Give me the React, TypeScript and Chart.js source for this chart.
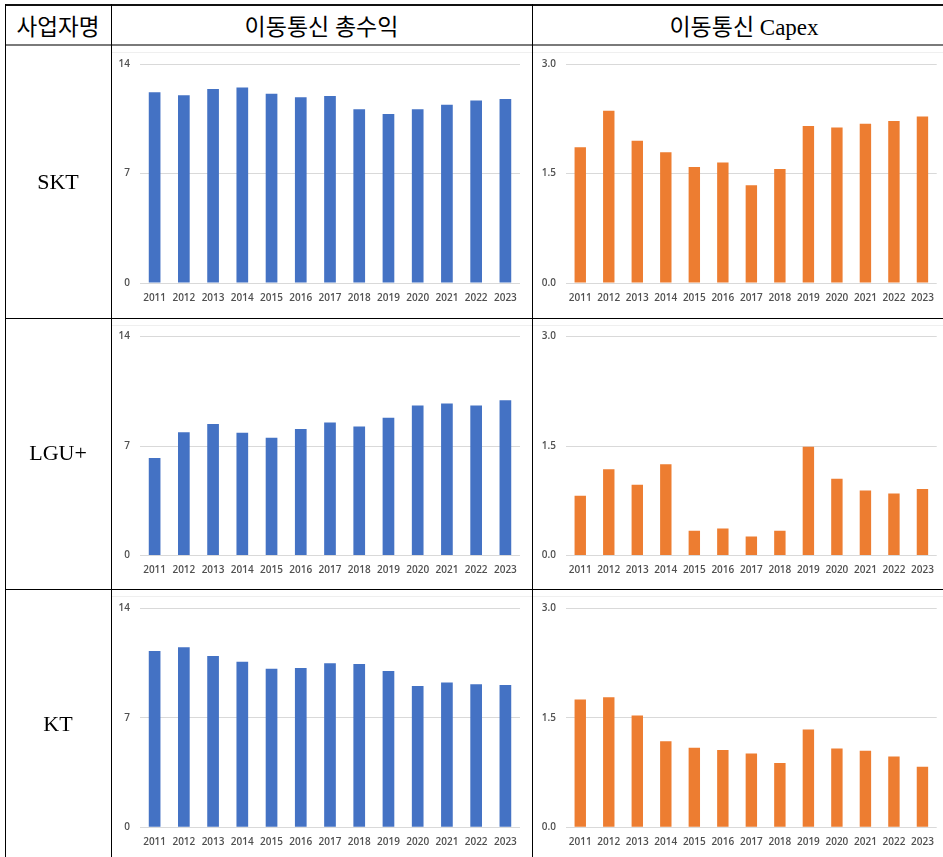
import React, { useEffect, useRef } from 'react';
import Chart from 'chart.js/auto';

const years = ['2011', '2012', '2013', '2014', '2015', '2016', '2017', '2018', '2019', '2020', '2021', '2022', '2023'];

const sktRevenue = [12.2, 12.0, 12.4, 12.5, 12.1, 11.87, 11.96, 11.1, 10.8, 11.1, 11.4, 11.66, 11.77];
const sktCapex = [1.86, 2.36, 1.95, 1.79, 1.59, 1.65, 1.34, 1.56, 2.15, 2.13, 2.18, 2.22, 2.28];
const lguRevenue = [6.24, 7.88, 8.4, 7.84, 7.52, 8.08, 8.5, 8.25, 8.8, 9.59, 9.72, 9.59, 9.93];
const lguCapex = [0.82, 1.18, 0.97, 1.25, 0.34, 0.37, 0.26, 0.34, 1.49, 1.05, 0.89, 0.85, 0.91];
const ktRevenue = [11.27, 11.51, 10.95, 10.59, 10.14, 10.19, 10.48, 10.44, 9.99, 9.03, 9.25, 9.14, 9.1];
const ktCapex = [1.75, 1.78, 1.53, 1.18, 1.09, 1.06, 1.01, 0.88, 1.34, 1.08, 1.05, 0.97, 0.83];

const revenueTicks = [0, 7, 14];
const capexTicks = [0, 1.5, 3.0];

const headerLabels = ['사업자명', '이동통신 총수익', '이동통신 Capex'];
const companyLabels = ['SKT', 'LGU+', 'KT'];

const BLUE = '#4472C4';
const ORANGE = '#ED7D31';
const TICK_COLOR = '#505050';
const GRID_COLOR = '#d9d9d9';
const TICK_FONT = { family: '"Open Sans", "Liberation Sans", sans-serif', size: 10, weight: '600' };
const TEXT_FONT = '"Liberation Serif", "Noto Sans CJK KR", serif';

type BarProps = {
  left: number;
  top: number;
  width: number;
  height: number;
  data: number[];
  color: string;
  ticks: number[];
  decimals: number;
  yWidth: number;
  padRight: number;
  plotTop: number;
  plotHeight: number;
};

function BarChart(p: BarProps) {
  const ref = useRef<HTMLCanvasElement>(null);
  useEffect(() => {
    if (!ref.current) return;
    const xAxisH = 24;
    const chart = new Chart(ref.current, {
      type: 'bar',
      data: {
        labels: years,
        datasets: [
          {
            data: p.data,
            backgroundColor: p.color,
            categoryPercentage: 1,
            barPercentage: 0.4,
          },
        ],
      },
      options: {
        animation: false,
        responsive: false,
        devicePixelRatio: 1,
        layout: {
          padding: {
            left: 0,
            right: p.padRight,
            top: p.plotTop,
            bottom: p.height - p.plotTop - p.plotHeight - xAxisH,
          },
        },
        plugins: { legend: { display: false }, tooltip: { enabled: false } },
        scales: {
          x: {
            grid: { display: false, drawTicks: false },
            border: { display: false },
            ticks: { font: TICK_FONT, color: TICK_COLOR, padding: 9, maxRotation: 0, minRotation: 0, autoSkip: false },
            afterFit: (s: any) => {
              s.height = xAxisH;
            },
          },
          y: {
            min: 0,
            max: p.ticks[p.ticks.length - 1],
            grid: { color: GRID_COLOR, drawTicks: false, lineWidth: 1 },
            border: { display: false },
            ticks: {
              font: TICK_FONT,
              color: TICK_COLOR,
              padding: 10,
              callback: (v: any) => Number(v).toFixed(p.decimals),
            },
            afterBuildTicks: (s: any) => {
              s.ticks = p.ticks.map((v) => ({ value: v }));
            },
            afterFit: (s: any) => {
              s.width = p.yWidth;
            },
          },
        },
      },
    } as any);
    return () => chart.destroy();
  }, []);
  return (
    <canvas
      ref={ref}
      width={p.width}
      height={p.height}
      style={{ position: 'absolute', left: p.left, top: p.top, width: p.width, height: p.height }}
    />
  );
}

const rows = [
  { top: 46, height: 271, plotTop: 18, labelY: 182, rev: sktRevenue, capex: sktCapex },
  { top: 319, height: 269, plotTop: 17.5, labelY: 453, rev: lguRevenue, capex: lguCapex },
  { top: 590, height: 267, plotTop: 18.3, labelY: 724, rev: ktRevenue, capex: ktCapex },
];

function Line(props: { x: number; y: number; w: number; h: number; c: string }) {
  return (
    <div
      style={{ position: 'absolute', left: props.x, top: props.y, width: props.w, height: props.h, background: props.c }}
    />
  );
}

function Label(props: { cx: number; cy: number; text: string; size: number }) {
  return (
    <div
      style={{
        position: 'absolute',
        left: props.cx - 150,
        top: props.cy - 20,
        width: 300,
        height: 40,
        display: 'flex',
        alignItems: 'center',
        justifyContent: 'center',
        fontFamily: TEXT_FONT,
        fontSize: props.size,
        color: '#000',
        whiteSpace: 'nowrap',
      }}
    >
      {props.text}
    </div>
  );
}

export default function App() {
  return (
    <div
      style={{
        position: 'fixed',
        left: 0,
        top: 0,
        width: 943,
        height: 857,
        overflow: 'hidden',
        background: '#fff',
      }}
    >
      {/* faint chart frame lines */}
      {rows.map((r, i) => (
        <Line key={'f' + i} x={112} y={r.top + 6} w={831} h={1} c="#efefef" />
      ))}

      {rows.map((r, i) => (
        <React.Fragment key={'r' + i}>
          <BarChart
            left={112}
            top={r.top}
            width={419}
            height={r.height}
            data={r.rev}
            color={BLUE}
            ticks={revenueTicks}
            decimals={0}
            yWidth={28}
            padRight={11}
            plotTop={r.plotTop}
            plotHeight={219}
          />
          <BarChart
            left={533}
            top={r.top}
            width={410}
            height={r.height}
            data={r.capex}
            color={ORANGE}
            ticks={capexTicks}
            decimals={1}
            yWidth={33}
            padRight={3}
            plotTop={r.plotTop}
            plotHeight={219}
          />
          <Label cx={58} cy={r.labelY} text={companyLabels[i]} size={22} />
        </React.Fragment>
      ))}

      {/* header labels */}
      <Label cx={58} cy={25} text={headerLabels[0]} size={22.5} />
      <Label cx={321.5} cy={25} text={headerLabels[1]} size={23} />
      <Label cx={744} cy={25} text={headerLabels[2]} size={23} />

      {/* table borders */}
      <Line x={5} y={4} w={960} h={2} c="#111" />
      <Line x={5} y={44} w={960} h={2} c="#7a7a7a" />
      <Line x={5} y={318} w={960} h={1} c="#000" />
      <Line x={5} y={589} w={960} h={1} c="#000" />
      <Line x={5} y={4} w={1} h={860} c="#000" />
      <Line x={111} y={4} w={1} h={860} c="#000" />
      <Line x={532} y={4} w={1} h={860} c="#000" />
    </div>
  );
}
